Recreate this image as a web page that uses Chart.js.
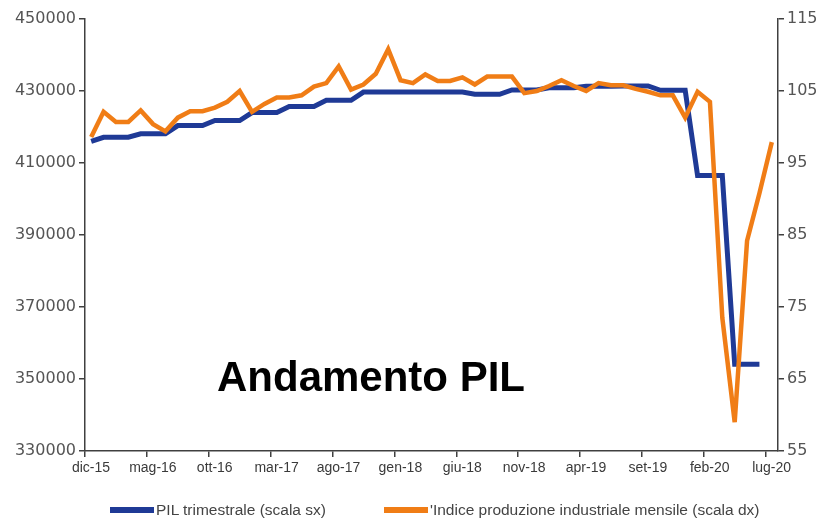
<!DOCTYPE html>
<html>
<head>
<meta charset="utf-8">
<script src="https://cdn.jsdelivr.net/npm/chart.js@4.4.1/dist/chart.umd.min.js"></script>
<style>
  html, body { margin: 0; padding: 0; background: #fff; }
  #box { position: relative; width: 823px; height: 523px; }
  #titolo {
    position: absolute; left: 217px; top: 353px;
    font: bold 42px "Liberation Sans", Arial, sans-serif; color: #000;
  }
  #legenda {
    position: absolute; left: 110px; top: 501px;
    display: flex; gap: 58px;
    font: 15.5px "Liberation Sans", Arial, sans-serif; color: #444;
  }
  #legenda span.voce { display: flex; align-items: center; }
  #legenda span.tratto { display: inline-block; width: 44px; height: 6px; margin-right: 2px; }
</style>
</head>
<body>
<div id="box">
  <canvas id="grafico"></canvas>
  <div id="titolo">Andamento PIL</div>
  <div id="legenda"></div>
</div>
<script>
// mesi (categorie asse x)
const mesi = [
  'dic-15',
  'gen-16', 'feb-16', 'mar-16', 'apr-16', 'mag-16', 'giu-16', 'lug-16', 'ago-16', 'set-16', 'ott-16', 'nov-16', 'dic-16',
  'gen-17', 'feb-17', 'mar-17', 'apr-17', 'mag-17', 'giu-17', 'lug-17', 'ago-17', 'set-17', 'ott-17', 'nov-17', 'dic-17',
  'gen-18', 'feb-18', 'mar-18', 'apr-18', 'mag-18', 'giu-18', 'lug-18', 'ago-18', 'set-18', 'ott-18', 'nov-18', 'dic-18',
  'gen-19', 'feb-19', 'mar-19', 'apr-19', 'mag-19', 'giu-19', 'lug-19', 'ago-19', 'set-19', 'ott-19', 'nov-19', 'dic-19',
  'gen-20', 'feb-20', 'mar-20', 'apr-20', 'mag-20', 'giu-20', 'lug-20'
];

// etichette mostrate sull'asse x
const etichetteX = ['dic-15', 'mag-16', 'ott-16', 'mar-17', 'ago-17', 'gen-18', 'giu-18', 'nov-18', 'apr-19', 'set-19', 'feb-20', 'lug-20'];

// PIL trimestrale, ripetuto sui mesi del trimestre (scala sx)
const pil = [
  416000,
  417150, 417150, 417150, 418100, 418100, 418100, 420400, 420400, 420400, 421800, 421800, 421800,
  424000, 424000, 424000, 425700, 425700, 425700, 427400, 427400, 427400, 429700, 429700, 429700,
  429700, 429700, 429700, 429700, 429700, 429700, 429100, 429100, 429100, 430300, 430300, 430300,
  430900, 430900, 430900, 431300, 431300, 431300, 431400, 431400, 431400, 430200, 430200, 430200,
  406500, 406500, 406500, 354100, 354100, 354100
];

// indice produzione industriale mensile (scala dx)
const produzione = [
  98.6,
  102.1, 100.7, 100.7, 102.3, 100.4, 99.4, 101.3, 102.2, 102.2, 102.7, 103.5, 105.0,
  102.1, 103.2, 104.1, 104.1, 104.4, 105.6, 106.1, 108.4, 105.2, 105.9, 107.4, 110.8,
  106.5, 106.1, 107.3, 106.4, 106.4, 106.9, 105.9, 107.0, 107.0, 107.0, 104.7, 105.0,
  105.7, 106.5, 105.7, 105.0, 106.1, 105.8, 105.8, 105.3, 104.9, 104.4, 104.4, 101.3,
  104.9, 103.5, 73.5, 59.0, 84.2, 90.8, 97.9
];

const coloreAsse = '#404040';
const coloreTesto = '#555555';

// punti a metà mese
function aMetaMese(valori) {
  return valori.map((v, i) => ({ x: i + 0.5, y: v }));
}

const ctx = document.getElementById('grafico').getContext('2d');
const chart = new Chart(ctx, {
  type: 'line',
  data: {
    datasets: [{
      label: 'PIL trimestrale (scala sx)',
      data: aMetaMese(pil),
      yAxisID: 'ySx',
      borderColor: '#1f3a96',
      backgroundColor: '#1f3a96',
      borderWidth: 5,
      pointRadius: 0,
      tension: 0,
      order: 2
    }, {
      label: '\'Indice produzione industriale mensile (scala dx)',
      data: aMetaMese(produzione),
      yAxisID: 'yDx',
      borderColor: '#f07d16',
      backgroundColor: '#f07d16',
      borderWidth: 4.5,
      pointRadius: 0,
      tension: 0,
      order: 1
    }]
  },
  options: {
    responsive: true,
    maintainAspectRatio: false,
    animation: false,
    layout: { padding: { top: 19, bottom: 42, left: 0, right: 0 } },
    plugins: {
      legend: { display: false },
      tooltip: { enabled: false }
    },
    scales: {
      x: {
        type: 'linear',
        min: 0,
        max: mesi.length,
        afterFit: s => { s.height = 30; },
        afterBuildTicks: s => {
          s.ticks = etichetteX.map(e => ({ value: mesi.indexOf(e) }));
        },
        ticks: {
          autoSkip: false,
          maxRotation: 0,
          padding: 3,
          labelOffset: 6,
          color: '#3a3a3a',
          font: { family: '"Liberation Sans", Arial, sans-serif', size: 14 },
          callback: v => mesi[v]
        },
        grid: { drawOnChartArea: false, color: coloreAsse, tickLength: 6, lineWidth: 1.5 },
        border: { color: coloreAsse, width: 1.5 }
      },
      ySx: {
        position: 'left',
        min: 330000,
        max: 450000,
        afterFit: s => { s.width = 85; },
        ticks: {
          stepSize: 20000,
          padding: 3,
          color: coloreTesto,
          font: { family: '"DejaVu Sans", sans-serif', size: 16 },
          callback: v => String(v)
        },
        grid: { drawOnChartArea: false, color: coloreAsse, tickLength: 6, lineWidth: 1.5 },
        border: { color: coloreAsse, width: 1.5 }
      },
      yDx: {
        position: 'right',
        min: 55,
        max: 115,
        afterFit: s => { s.width = 45; },
        ticks: {
          stepSize: 10,
          padding: 3,
          color: coloreTesto,
          font: { family: '"DejaVu Sans", sans-serif', size: 16 }
        },
        grid: { drawOnChartArea: false, color: coloreAsse, tickLength: 6, lineWidth: 1.5 },
        border: { color: coloreAsse, width: 1.5 }
      }
    }
  }
});

// legenda in html costruita dai dataset
const legenda = document.getElementById('legenda');
chart.data.datasets.forEach(ds => {
  const voce = document.createElement('span');
  voce.className = 'voce';
  const tratto = document.createElement('span');
  tratto.className = 'tratto';
  tratto.style.background = ds.borderColor;
  voce.appendChild(tratto);
  voce.appendChild(document.createTextNode(ds.label));
  legenda.appendChild(voce);
});
</script>
</body>
</html>
